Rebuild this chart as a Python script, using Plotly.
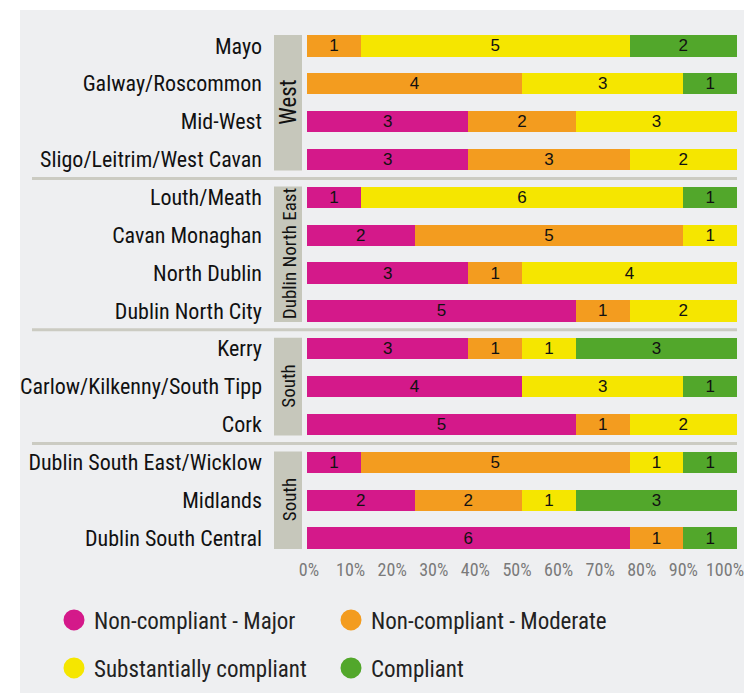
import plotly.graph_objects as go

# Areas, top to bottom
areas = ["Mayo", "Galway/Roscommon", "Mid-West", "Sligo/Leitrim/West Cavan",
         "Louth/Meath", "Cavan Monaghan", "North Dublin", "Dublin North City",
         "Kerry", "Carlow/Kilkenny/South Tipp", "Cork",
         "Dublin South East/Wicklow", "Midlands", "Dublin South Central"]

# number of centres per judgement
major = [0, 0, 3, 3, 1, 2, 3, 5, 3, 4, 5, 1, 2, 6]
moderate = [1, 4, 2, 3, 0, 5, 1, 1, 1, 0, 1, 5, 2, 1]
substantial = [5, 3, 3, 2, 6, 1, 4, 2, 1, 3, 2, 1, 1, 0]
compliant = [2, 1, 0, 0, 1, 0, 0, 0, 3, 1, 0, 1, 3, 1]

series_names = ["Non-compliant - Major", "Non-compliant - Moderate",
                "Substantially compliant", "Compliant"]
series_colors = ["#d4198a", "#f39c1f", "#f5e600", "#52a72b"]

# groups: (label, first row, last row, font size)
groups = [("West", 0, 3, 23), ("Dublin North East", 4, 7, 19), ("South", 8, 10, 19), ("South", 11, 13, 19)]
tick_vals = [0, 10, 20, 30, 40, 50, 60, 70, 80, 90, 100]
tick_text = [f"{t}%" for t in tick_vals]

NARROW = "Liberation Sans Narrow, Roboto Condensed, DejaVu Sans Condensed, Arial Narrow, sans-serif"
W, H = 744, 693

fig = go.Figure()

for name, vals, col in zip(series_names, [major, moderate, substantial, compliant], series_colors):
    fig.add_trace(go.Bar(
        y=areas, x=vals, orientation="h", name=name,
        marker=dict(color=col, line=dict(width=0)),
        text=[str(v) if v else "" for v in vals],
        textposition="inside", insidetextanchor="middle", textangle=0,
        constraintext="none",
        textfont=dict(family="Liberation Sans, Arial, sans-serif", size=17, color="#111"),
        showlegend=False, hoverinfo="x+y+name",
    ))

# invisible helper so the percentage scale (x2) gets drawn
fig.add_trace(go.Scatter(x=[tick_vals[0], tick_vals[-1]], y=[areas[0], areas[0]], xaxis="x2",
                         mode="markers", marker=dict(opacity=0), showlegend=False,
                         hoverinfo="skip"))

# legend entries as round markers
for i, (name, col) in enumerate(zip(series_names, series_colors)):
    fig.add_trace(go.Scatter(
        x=[None], y=[None], mode="markers", name=name,
        marker=dict(symbol="circle", size=16, color=col, line=dict(color=col, width=5)),
        legend="legend" if i < 2 else "legend2",
    ))

shapes = [
    # grey panel
    dict(type="rect", xref="paper", yref="paper", x0=20 / W, x1=1, y0=0, y1=1 - 10 / H,
         fillcolor="#eeeff1", line=dict(width=0), layer="below"),
]
annotations = []
for label, a, b, fs in groups:
    shapes.append(dict(type="rect", xref="paper", yref="y", x0=274 / W, x1=302 / W,
                       y0=a - 0.29, y1=b + 0.29, fillcolor="#c6c7bb", line=dict(width=0),
                       layer="below"))
    annotations.append(dict(xref="paper", yref="y", x=289 / W, y=(a + b) / 2, text=label,
                            textangle=-90, showarrow=False,
                            font=dict(family=NARROW, size=fs, color="#111")))
for a in [3.5, 7.5, 10.5]:
    shapes.append(dict(type="line", xref="paper", yref="y", x0=32 / W, x1=737 / W,
                       y0=a, y1=a, line=dict(color="#cbcbc2", width=3), layer="below"))

legend_style = dict(orientation="h", x=54 / W, xanchor="left", yanchor="middle",
                    entrywidth=232, traceorder="normal", bgcolor="rgba(0,0,0,0)",
                    font=dict(family=NARROW, size=23, color="#222"))

fig.update_layout(
    width=W, height=H,
    barmode="stack", barnorm="percent", bargap=0.44,
    paper_bgcolor="white", plot_bgcolor="rgba(0,0,0,0)",
    margin=dict(l=0, r=0, t=0, b=0),
    shapes=shapes, annotations=annotations,
    xaxis=dict(domain=[307 / W, 737 / W], range=[0, 100], showticklabels=False,
               showgrid=False, zeroline=False, showline=False, ticks=""),
    # percentage scale drawn slightly compressed, as in the source graphic
    xaxis2=dict(domain=[309 / W, 725 / W], range=[0, 100], anchor="y",
                tickvals=tick_vals, ticktext=tick_text, ticklabeloverflow="allow",
                showgrid=False, zeroline=False, showline=False, ticks="",
                tickfont=dict(family=NARROW, size=18, color="#7a7a7a"), automargin=False),
    yaxis=dict(domain=[1 - 557 / H, 1 - 27 / H], range=[len(areas) - 0.5, -0.5],
               showgrid=False, zeroline=False, showline=False, ticks="", ticklabelstandoff=44,
               tickfont=dict(family=NARROW, size=22, color="#111"), automargin=False),
    legend=dict(legend_style, y=1 - 620 / H),
    legend2=dict(legend_style, y=1 - 668 / H),
)

fig.write_html("out.html", config={"displayModeBar": False},
               post_script="document.body.style.margin='0';")
